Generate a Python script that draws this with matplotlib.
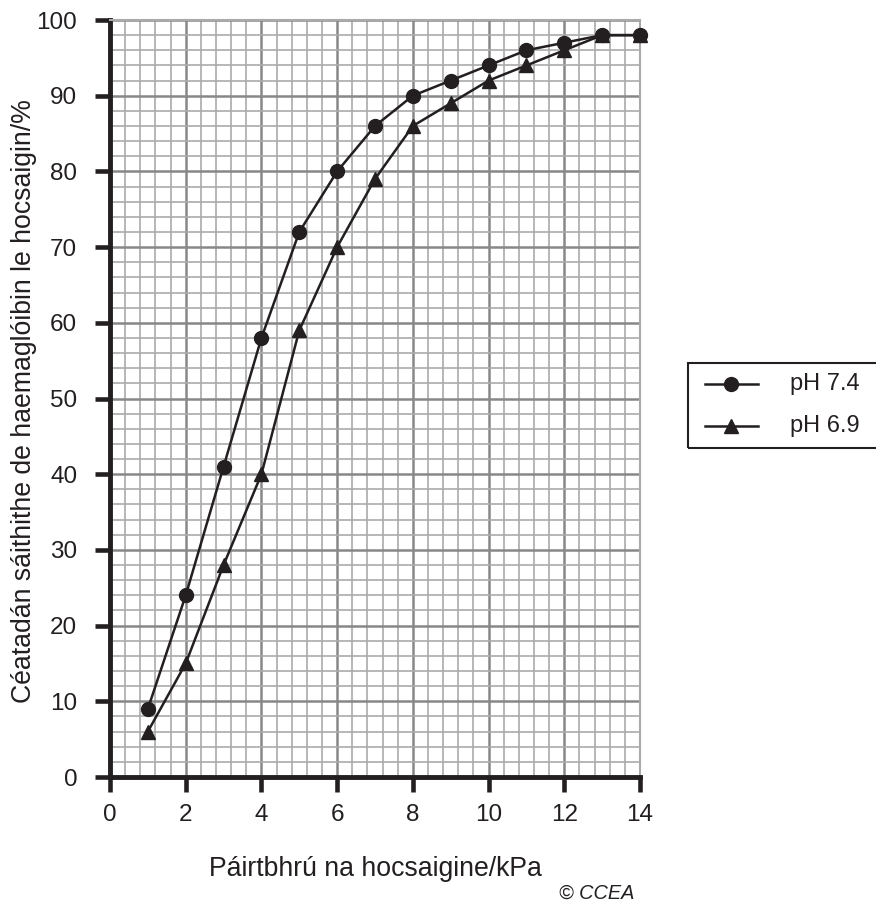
import numpy as np
import matplotlib.pyplot as plt
import matplotlib.patches as patches
from matplotlib.lines import Line2D

plt.rcParams['font.family'] = ['Liberation Sans', 'DejaVu Sans']

pressure = [1, 2, 3, 4, 5, 6, 7, 8, 9, 10, 11, 12, 13, 14]
sat_74 = [9, 24, 41, 58, 72, 80, 86, 90, 92, 94, 96, 97, 98, 98]
sat_69 = [6, 15, 28, 40, 59, 70, 79, 86, 89, 92, 94, 96, 98, 98]
xticks = [0, 2, 4, 6, 8, 10, 12, 14]
yticks = [0, 10, 20, 30, 40, 50, 60, 70, 80, 90, 100]

ink = '#231f20'

fig = plt.figure(figsize=(8.76, 9.11), dpi=100)
ax = fig.add_axes([110/876, 1 - 777/911, 530/876, 757/911])

# graph paper grid
for v in np.arange(0, 14.01, 0.4):
    major = abs(v / 2 - round(v / 2)) < 1e-6
    ax.axvline(v, color='#888888' if major else '#aaaaaa', lw=1.8 if major else 1.2, zorder=1)
for v in np.arange(0, 100.01, 2):
    major = abs(v / 10 - round(v / 10)) < 1e-6
    ax.axhline(v, color='#888888' if major else '#aaaaaa', lw=1.8 if major else 1.2, zorder=1)

ax.plot(pressure, sat_74, color=ink, lw=1.8, marker='o', ms=10, zorder=3, clip_on=False)
ax.plot(pressure, sat_69, color=ink, lw=1.8, marker='^', ms=10, zorder=3, clip_on=False)

ax.set_xlim(0, 14)
ax.set_ylim(0, 100)
ax.set_xticks(xticks)
ax.set_yticks(yticks)
ax.tick_params(direction='out', length=11, width=3.3, labelsize=17.5, colors=ink)
ax.tick_params(axis='x', pad=8.5)
ax.tick_params(axis='y', pad=12.5)
for s in ['left', 'bottom']:
    ax.spines[s].set_linewidth(3.5)
    ax.spines[s].set_color(ink)
for s in ['top', 'right']:
    ax.spines[s].set_linewidth(1.5)
    ax.spines[s].set_color('#aaaaaa')

ax.set_ylabel('Céatadán sáithithe de haemaglóibin le hocsaigin/%', fontsize=19.2, color=ink)
ax.yaxis.set_label_coords(-0.138, 0.496)
ax.set_xlabel('Páirtbhrú na hocsaigine/kPa', fontsize=19.2, color=ink)
ax.xaxis.set_label_coords(0.5, -0.105)

fig.text(597/876, 1 - 893/911, '© CCEA', fontsize=14.3, style='italic', ha='center', va='center', color=ink)

# legend box
fig.patches.append(patches.Rectangle((688/876, 1 - 448/911), 200/876, 85/911,
                                     transform=fig.transFigure, fill=False, lw=1.5, ec=ink))
for yy, mk, lab in [(384, 'o', 'pH 7.4'), (426, '^', 'pH 6.9')]:
    fig.lines.append(Line2D([705/876, 758/876], [1 - yy/911] * 2, transform=fig.transFigure,
                            color=ink, lw=1.8))
    fig.lines.append(Line2D([731/876], [1 - yy/911], transform=fig.transFigure,
                            color=ink, marker=mk, ms=10))
    fig.text(790/876, 1 - yy/911, lab, fontsize=17, va='center', color=ink)

fig.savefig('out.png', dpi=100)
